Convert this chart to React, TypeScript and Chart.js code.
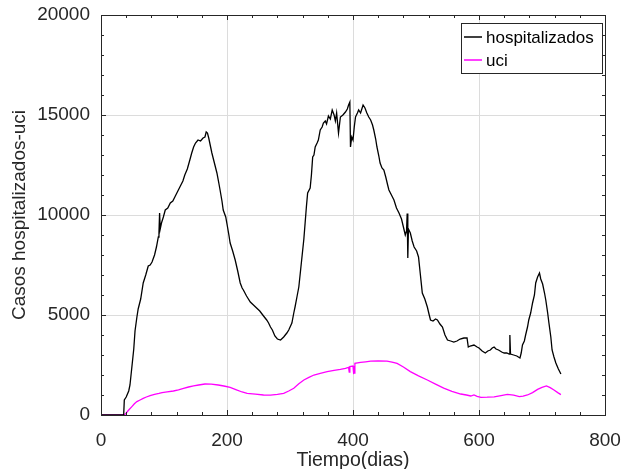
import React, { useEffect, useRef } from "react";
import { Chart, registerables } from "chart.js";

Chart.register(...registerables);

const xTicks = [0, 200, 400, 600, 800];
const yTicks = [0, 5000, 10000, 15000, 20000];
const seriesNames = ["hospitalizados", "uci"];
const seriesColors = ["#000000", "#ff00ff"];

const hospDays = [0, 36, 37, 40, 44, 46, 49, 52, 54, 57, 59, 63, 67, 71, 75, 78, 81, 85, 88, 91, 92, 93, 94, 96, 99, 102, 106, 110, 114, 118, 122, 126, 130, 133, 137, 141, 144, 147, 150, 154, 158, 162, 165, 167, 169, 171, 174, 176, 180, 184, 187, 189, 192, 194, 198, 200, 203, 205, 209, 213, 217, 221, 224, 226, 231, 237, 242, 247, 252, 258, 263, 266, 269, 272, 276, 280, 285, 290, 295, 298, 303, 306, 308, 311, 314, 317, 319, 322, 324, 326, 328, 332, 334, 336, 338, 340, 343, 345, 348, 351, 353, 356, 358, 361, 364, 367, 370, 372, 374, 377, 380, 384, 388, 391, 393, 395, 396, 398, 400, 402, 404, 407, 409, 412, 414, 416, 419, 422, 425, 428, 431, 433, 436, 438, 441, 443, 446, 449, 452, 455, 457, 461, 465, 469, 473, 477, 480, 483, 485, 486, 487, 488, 491, 494, 497, 501, 504, 507, 510, 514, 518, 521, 523, 527, 531, 534, 538, 542, 546, 550, 555, 560, 565, 570, 576, 581, 583, 586, 592, 597, 600, 605, 610, 614, 618, 621, 624, 627, 631, 636, 640, 644, 648, 649, 650, 655, 660, 665, 667, 669, 672, 674, 677, 679, 682, 685, 688, 690, 693, 696, 698, 701, 704, 706, 709, 711, 714, 716, 719, 722, 726, 730];
const hospValues = [0, 0, 750, 900, 1200, 1500, 2400, 3300, 4200, 4900, 5300, 5800, 6600, 7000, 7450, 7500, 7650, 8000, 8400, 8900, 9100, 10100, 9300, 9600, 9900, 10250, 10350, 10600, 10700, 10950, 11200, 11450, 11700, 12000, 12300, 12750, 13100, 13400, 13600, 13750, 13700, 13850, 13900, 14150, 14100, 13850, 13400, 13100, 12600, 12100, 11600, 11250, 10700, 10250, 9900, 9550, 9000, 8600, 8200, 7750, 7200, 6600, 6350, 6250, 5950, 5650, 5500, 5350, 5200, 4950, 4750, 4600, 4400, 4250, 3950, 3800, 3750, 3900, 4100, 4250, 4600, 5100, 5400, 5900, 6400, 7300, 7900, 8800, 9600, 10400, 11100, 11350, 12000, 12900, 13000, 13400, 13600, 13750, 14250, 14400, 14600, 14700, 14550, 14950, 14800, 15250, 15000, 14700, 15100, 14100, 14900, 15000, 15150, 15300, 15500, 15650, 13400, 13900, 13750, 14400, 14900, 15100, 15250, 15100, 15300, 15500, 15350, 15100, 14900, 14750, 14500, 14250, 13800, 13400, 12950, 12600, 12350, 12250, 11900, 11500, 11250, 11000, 10750, 10350, 10100, 9800, 9400, 9000, 9200, 10080, 7850, 9300, 9100, 8700, 8400, 8200, 7900, 7000, 6100, 5800, 5400, 5000, 4750, 4700, 4800, 4750, 4550, 4400, 4000, 3750, 3700, 3650, 3700, 3800, 3850, 3850, 3400, 3450, 3500, 3400, 3350, 3200, 3100, 3200, 3250, 3350, 3400, 3300, 3250, 3150, 3100, 3100, 3050, 4000, 3050, 3000, 2950, 2850, 3100, 3500, 3700, 4000, 4400, 4750, 5100, 5600, 6000, 6600, 6900, 7100, 6800, 6550, 6100, 5750, 5100, 4600, 3900, 3250, 2900, 2600, 2300, 2050];

const uciDays = [0, 37, 40, 44, 49, 53, 57, 62, 67, 72, 78, 85, 92, 97, 105, 115, 123, 131, 139, 147, 155, 165, 175, 186, 195, 205, 215, 224, 232, 245, 258, 269, 280, 290, 298, 306, 314, 322, 330, 338, 348, 359, 370, 380, 388, 393, 394, 395, 400, 401, 402, 403, 412, 420, 428, 440, 454, 462, 470, 480, 491, 504, 518, 531, 544, 557, 571, 580, 587, 592, 597, 603, 613, 624, 635, 645, 655, 664, 670, 677, 685, 693, 700, 707, 713, 719, 725, 730];
const uciValues = [0, 0, 100, 250, 420, 560, 670, 750, 830, 900, 970, 1030, 1080, 1120, 1160, 1200, 1260, 1330, 1400, 1460, 1500, 1550, 1540, 1500, 1450, 1380, 1260, 1150, 1080, 1040, 1000, 990, 1030, 1080, 1200, 1340, 1560, 1750, 1880, 2000, 2080, 2170, 2230, 2280, 2330, 2380, 2150, 2420, 2450, 2080, 2100, 2580, 2630, 2660, 2690, 2700, 2690, 2640, 2580, 2400, 2170, 1960, 1750, 1540, 1340, 1180, 1050, 1000, 950, 1000, 930, 880, 890, 910, 970, 1030, 990, 920, 940, 1000, 1120, 1280, 1380, 1450, 1370, 1250, 1120, 1020];

const AXIS = "#262626";
const FONT = "'Liberation Sans', Arial, sans-serif";

const boxTicksPlugin = {
  id: "boxTicks",
  afterDatasetsDraw(chart: any) {
    const { ctx, chartArea, scales } = chart;
    const { left, right, top, bottom } = chartArea;
    const xs = scales.x;
    const ys = scales.y;
    ctx.save();
    ctx.strokeStyle = AXIS;
    ctx.lineWidth = 1;
    ctx.beginPath();
    for (let v = 0; v <= 800; v += 40) {
      const px = Math.round(xs.getPixelForValue(v)) + 0.5;
      const len = v % 200 === 0 ? 5 : 3;
      ctx.moveTo(px, bottom);
      ctx.lineTo(px, bottom - len);
      ctx.moveTo(px, top);
      ctx.lineTo(px, top + len);
    }
    for (let v = 0; v <= 20000; v += 1000) {
      const py = Math.round(ys.getPixelForValue(v)) + 0.5;
      const len = v % 5000 === 0 ? 5 : 3;
      ctx.moveTo(left, py);
      ctx.lineTo(left + len, py);
      ctx.moveTo(right, py);
      ctx.lineTo(right - len, py);
    }
    ctx.stroke();
    ctx.strokeRect(Math.round(left) + 0.5, Math.round(top) + 0.5, Math.round(right - left), Math.round(bottom - top));
    // legend
    const lx = 461.5, ly = 23.5, lw = 141, lh = 50;
    ctx.fillStyle = "#ffffff";
    ctx.fillRect(lx, ly, lw, lh);
    ctx.strokeStyle = AXIS;
    ctx.strokeRect(lx, ly, lw, lh);
    ctx.font = "17px " + FONT;
    ctx.textBaseline = "middle";
    ctx.textAlign = "left";
    chart.data.datasets.forEach((ds: any, i: number) => {
      const cy = 37 + i * 23;
      ctx.strokeStyle = ds.borderColor;
      ctx.lineWidth = 1.5;
      ctx.beginPath();
      ctx.moveTo(464, cy);
      ctx.lineTo(482, cy);
      ctx.stroke();
      ctx.fillStyle = "#000000";
      ctx.fillText(ds.label, 486, cy + 1);
    });
    ctx.restore();
  },
};

export default function App() {
  const ref = useRef<HTMLCanvasElement | null>(null);
  useEffect(() => {
    if (!ref.current) return;
    const chart = new Chart(ref.current, {
      type: "line",
      data: {
        datasets: [
          {
            label: seriesNames[0],
            data: hospDays.map((d, i) => ({ x: d, y: hospValues[i] })),
            borderColor: seriesColors[0],
            borderWidth: 1.3,
            pointRadius: 0,
            tension: 0,
            fill: false,
          },
          {
            label: seriesNames[1],
            data: uciDays.map((d, i) => ({ x: d, y: uciValues[i] })),
            borderColor: seriesColors[1],
            borderWidth: 1.3,
            pointRadius: 0,
            tension: 0,
            fill: false,
          },
        ],
      },
      options: {
        animation: false,
        responsive: true,
        maintainAspectRatio: false,
        layout: { padding: { top: 15, right: 25, left: 0, bottom: 0 } },
        plugins: { legend: { display: false }, tooltip: { enabled: false } },
        scales: {
          x: {
            type: "linear",
            min: 0,
            max: 800,
            afterBuildTicks: (s: any) => {
              s.ticks = xTicks.map((v) => ({ value: v }));
            },
            afterFit: (s: any) => {
              s.height = 54;
              s.paddingLeft = 0;
              s.paddingRight = 0;
            },
            ticks: {
              color: AXIS,
              font: { size: 19, family: FONT },
              padding: 14,
              maxRotation: 0,
              callback: (v: any) => String(v),
            },
            grid: { color: "#dcdcdc", drawTicks: false, lineWidth: 1 },
            border: { display: false },
            title: {
              display: true,
              text: "Tiempo(dias)",
              color: AXIS,
              font: { size: 19.5, family: FONT },
              padding: { top: 0, bottom: -3 },
            },
          },
          y: {
            type: "linear",
            min: 0,
            max: 20000,
            afterBuildTicks: (s: any) => {
              s.ticks = yTicks.map((v) => ({ value: v }));
            },
            afterFit: (s: any) => {
              s.width = 101;
              s.paddingTop = 0;
              s.paddingBottom = 0;
            },
            ticks: {
              color: AXIS,
              font: { size: 19, family: FONT },
              padding: 11,
              callback: (v: any) => String(v),
            },
            grid: { color: "#dcdcdc", drawTicks: false, lineWidth: 1 },
            border: { display: false },
            title: {
              display: true,
              text: "Casos hospitalizados-uci",
              color: AXIS,
              font: { size: 19, family: FONT },
              padding: { top: 8, bottom: 0 },
            },
          },
        },
      },
      plugins: [boxTicksPlugin],
    } as any);
    return () => chart.destroy();
  }, []);
  return (
    <div style={{ position: "fixed", left: 0, top: 0, width: 630, height: 469, background: "#fff" }}>
      <canvas ref={ref} />
    </div>
  );
}
